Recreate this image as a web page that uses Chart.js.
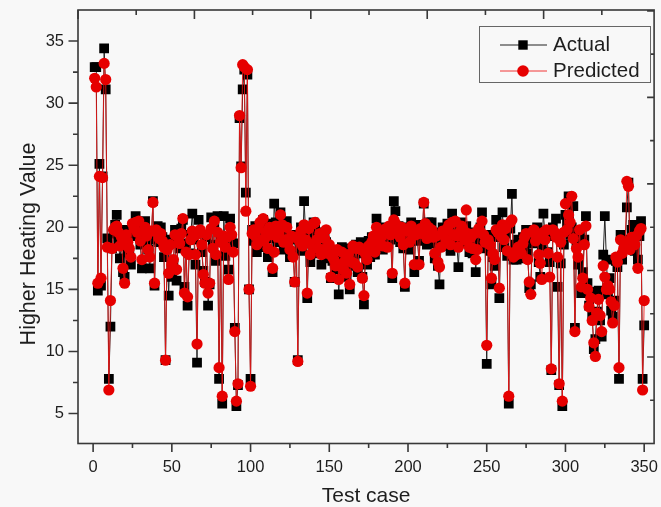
<!DOCTYPE html>
<html><head><meta charset="utf-8">
<script src="https://cdn.jsdelivr.net/npm/chart.js@4.4.1/dist/chart.umd.min.js"></script>
<style>html,body{margin:0;padding:0;background:#f8f8f8;}#wrap{width:661px;height:507px;}</style>
</head><body><div id="wrap"><canvas id="c" width="661" height="507"></canvas></div>
<script>
const seriesNames = ['Actual', 'Predicted'];
const yTitle = 'Higher Heating Value';
const xTitle = 'Test case';
const actual = [
32.9,32.9,14.9,25.1,15.3,24.1,34.4,31.1,19.1,7.8,
12.0,18.3,19.5,20.2,21.0,19.0,17.5,18.6,16.4,16.0,
19.8,18.0,17.9,17.0,20.0,19.5,20.9,19.3,20.4,18.6,
16.7,19.7,20.5,18.9,18.2,16.7,19.0,22.1,15.3,19.4,
20.1,18.8,20.0,19.2,17.6,9.3,18.5,14.5,19.0,16.0,
17.1,19.8,15.7,19.5,18.3,19.9,20.6,15.2,18.7,13.7,
17.9,19.4,21.1,19.0,17.0,9.1,20.6,19.5,18.0,16.5,
15.6,19.2,13.7,15.4,20.8,18.6,20.0,17.3,20.9,7.8,
19.3,5.8,20.9,17.7,18.5,16.6,20.7,19.0,18.7,11.9,
5.6,7.3,28.8,24.9,31.1,32.7,22.8,32.3,15.0,7.8,
19.8,18.9,20.1,18.0,19.6,20.2,19.0,20.6,18.4,19.5,
17.6,20.3,19.1,16.4,21.9,20.4,18.8,19.7,21.2,19.9,
18.2,18.4,20.5,19.3,17.6,19.0,18.0,15.6,19.4,9.3,
18.6,20.0,18.1,22.1,19.5,14.3,18.7,17.2,19.1,20.4,
19.8,18.6,17.9,19.2,17.0,18.5,19.6,18.8,17.5,18.2,
15.9,17.3,18.0,16.6,17.8,14.6,17.2,18.4,16.2,17.7,
16.0,18.3,15.0,16.9,18.1,17.5,18.6,16.4,17.9,18.8,
16.0,13.8,18.3,17.0,18.9,17.6,19.2,18.5,17.8,20.7,
19.0,18.4,19.6,18.2,20.0,19.3,18.7,19.8,19.0,15.9,
22.1,21.3,19.2,20.1,18.8,19.6,18.3,15.2,20.0,19.4,
18.2,20.4,19.0,16.4,19.7,18.9,17.3,20.2,19.1,21.9,
19.5,18.6,20.4,19.3,20.4,18.7,17.5,19.6,16.9,15.4,
18.8,20.0,19.2,18.5,20.3,19.6,18.1,21.1,19.8,19.0,
18.6,16.8,19.9,20.4,19.3,18.7,20.1,19.4,18.0,19.6,
17.9,19.1,16.4,18.8,19.5,20.0,21.2,19.0,18.3,9.0,
19.4,18.1,15.4,17.6,16.9,20.6,19.2,14.3,19.8,21.2,
18.4,19.5,17.7,5.8,19.9,22.7,17.4,18.6,17.4,19.0,
18.2,17.5,19.2,18.6,19.8,17.9,15.1,15.4,19.1,18.7,
19.4,20.0,17.2,16.0,18.5,21.1,19.3,19.5,18.0,17.2,
8.5,20.0,19.3,20.7,15.2,7.3,17.1,5.6,18.6,21.0,
20.3,22.5,19.4,20.0,21.7,11.9,18.7,17.0,19.2,14.7,
16.4,19.0,20.9,15.5,13.7,14.8,12.9,10.2,11.0,13.2,
14.9,12.5,11.2,17.8,20.9,17.4,14.6,15.9,13.3,12.8,
14.1,17.3,16.8,7.8,19.4,17.4,18.9,19.0,21.6,23.6,
18.3,19.8,20.2,18.1,19.6,17.4,19.3,20.5,7.8,12.1
];
const predicted = [
32.0,31.3,15.5,24.1,15.9,24.0,33.2,31.9,18.4,6.9,
14.1,18.3,19.8,20.0,20.1,19.6,18.5,19.2,16.7,15.5,
19.4,18.8,18.3,17.6,20.3,19.9,20.4,19.6,20.5,18.9,
17.4,19.5,20.0,19.3,18.2,17.6,19.7,22.0,15.5,19.8,
19.6,19.1,19.5,18.9,18.4,9.3,18.2,16.3,18.6,17.0,
17.4,19.4,16.6,19.2,18.7,19.5,20.7,14.7,18.0,14.4,
17.8,19.0,19.7,19.3,17.8,10.6,19.5,19.8,18.6,16.2,
15.5,19.4,14.7,15.5,19.9,18.3,20.5,17.8,19.6,8.7,
18.8,6.4,19.3,18.4,19.2,15.8,20.0,19.4,18.0,11.6,
6.0,7.4,29.0,24.8,33.1,32.9,21.3,32.7,15.0,7.2,
19.5,19.8,19.3,18.6,19.9,20.4,18.9,20.7,19.1,19.6,
18.3,20.0,19.4,16.7,18.0,20.1,19.2,19.5,21.0,20.2,
18.8,19.0,20.0,18.9,18.2,19.3,17.6,15.6,19.2,9.2,
18.9,19.7,18.5,20.2,19.0,14.7,19.9,17.8,18.6,20.3,
20.4,19.0,18.3,19.5,17.8,18.2,19.1,19.8,17.9,18.6,
16.0,17.6,17.4,16.9,18.2,15.8,17.0,18.0,16.6,17.3,
16.3,17.8,15.4,17.2,18.5,17.1,18.3,16.8,18.4,18.2,
15.9,14.5,17.9,17.4,18.5,18.1,18.8,19.3,18.0,20.0,
19.5,18.7,19.2,18.5,19.7,19.9,18.4,20.1,19.4,16.3,
20.6,20.3,19.6,19.8,19.2,20.0,18.6,15.5,19.7,19.8,
18.8,20.1,19.3,17.0,19.4,19.6,17.0,19.9,19.5,22.0,
20.3,19.1,20.0,19.6,19.8,19.2,17.9,19.3,17.2,16.8,
18.4,19.7,19.6,19.0,19.9,20.2,18.6,20.4,19.4,20.5,
19.3,18.4,19.6,20.1,19.8,19.0,21.4,19.5,18.4,19.2,
18.3,19.5,17.4,18.2,19.9,19.6,20.5,19.4,18.8,10.5,
19.0,18.6,15.9,17.9,17.4,19.8,19.6,15.1,19.3,20.2,
19.0,19.9,18.1,6.4,20.4,20.6,17.6,18.0,17.8,18.4,
18.2,17.9,18.7,19.2,19.5,17.4,15.6,14.6,19.6,19.8,
18.9,19.4,17.8,17.1,15.8,19.6,19.0,19.8,17.9,16.0,
8.6,19.8,19.6,19.2,17.6,7.4,18.8,6.0,19.6,21.9,
19.8,21.0,20.4,22.5,19.1,11.6,18.3,17.6,19.8,15.2,
15.9,18.6,20.1,15.0,13.6,14.3,12.5,10.7,9.6,13.1,
14.2,12.9,11.6,16.9,16.0,15.0,15.3,15.0,14.0,12.3,
13.7,17.6,17.2,8.7,19.0,17.9,18.3,18.7,23.7,23.3,
18.2,19.2,19.1,18.6,19.3,16.7,19.7,19.9,6.9,14.1
];
const xTicks = [0, 25, 50, 75, 100, 125, 150, 175, 200, 225, 250, 275, 300, 325, 350];
const yTicks = [5, 7.5, 10, 12.5, 15, 17.5, 20, 22.5, 25, 27.5, 30, 32.5, 35];
const topFrameTicks = [0, 0.5, 1, 1.5, 2, 2.5, 3, 3.5, 4, 4.5];
const rightFrameTicks = [0.5, 1, 1.5, 2, 2.5, 3, 3.5, 4, 4.5, 5];

const testCase = actual.map((_, i) => i + 1);
const FONT = 'Arial, "Liberation Sans", sans-serif';
const INK = '#1e1e1e';
const FRAME = '#383838';

function noPad(s) { s.paddingTop = 0; s.paddingBottom = 0; s.paddingLeft = 0; s.paddingRight = 0; }

const framePlugin = {
  id: 'frame',
  beforeDatasetsDraw(chart) {
    const {ctx, chartArea: a, scales} = chart;
    ctx.save();
    ctx.strokeStyle = FRAME;
    ctx.lineWidth = 1.6;
    ctx.strokeRect(a.left, a.top, a.right - a.left, a.bottom - a.top);
    ctx.beginPath();
    xTicks.forEach(v => {
      const p = scales.x.getPixelForValue(v);
      const len = v % 50 === 0 ? 8.5 : 4.5;
      ctx.moveTo(p, a.bottom); ctx.lineTo(p, a.bottom + len);
    });
    yTicks.forEach(v => {
      const p = scales.y.getPixelForValue(v);
      const len = v % 5 === 0 ? 9.5 : 5;
      ctx.moveTo(a.left, p); ctx.lineTo(a.left - len, p);
    });
    topFrameTicks.forEach(v => {
      const p = scales.xTop.getPixelForValue(v);
      const len = v % 1 === 0 ? 9 : 5;
      ctx.moveTo(p, a.top); ctx.lineTo(p, a.top + len);
    });
    rightFrameTicks.forEach(v => {
      const p = scales.yRight.getPixelForValue(v);
      const len = v % 1 === 0 ? 7 : 4;
      ctx.moveTo(a.right, p); ctx.lineTo(a.right - len, p);
    });
    ctx.stroke();
    // y-axis title
    ctx.fillStyle = INK;
    ctx.font = '21.5px ' + FONT;
    ctx.textAlign = 'center';
    ctx.textBaseline = 'alphabetic';
    ctx.translate(35, 244);
    ctx.rotate(-Math.PI / 2);
    ctx.fillText(yTitle, 0, 0);
    ctx.restore();
  },
  afterDraw(chart) {
    const {ctx} = chart;
    const ds = chart.data.datasets;
    ctx.save();
    ctx.fillStyle = '#f8f8f8';
    ctx.fillRect(479.5, 26.5, 171, 56);
    ctx.strokeStyle = '#666';
    ctx.lineWidth = 1;
    ctx.strokeRect(479.5, 26.5, 171, 56);
    const rows = [45, 71];
    ds.forEach((d, i) => {
      const y = rows[i];
      ctx.strokeStyle = d.borderColor;
      ctx.lineWidth = 1;
      ctx.beginPath(); ctx.moveTo(500, y); ctx.lineTo(547, y); ctx.stroke();
      ctx.fillStyle = d.pointBackgroundColor;
      if (d.pointStyle === 'rect') {
        ctx.fillRect(523 - 4.7, y - 4.7, 9.4, 9.4);
      } else {
        ctx.beginPath(); ctx.arc(523, y, 5.8, 0, Math.PI * 2); ctx.fill();
      }
      ctx.fillStyle = INK;
      ctx.font = '20.5px ' + FONT;
      ctx.textBaseline = 'middle';
      ctx.textAlign = 'left';
      ctx.fillText(d.label, 553, y);
    });
    ctx.restore();
  }
};

new Chart(document.getElementById('c'), {
  type: 'line',
  data: {
    datasets: [
      {
        label: seriesNames[0],
        data: testCase.map((x, i) => ({x, y: actual[i]})),
        borderColor: '#222',
        borderWidth: 1,
        pointStyle: 'rect',
        pointRadius: 6.9,
        pointBackgroundColor: '#000',
        pointBorderWidth: 0,
        order: 1
      },
      {
        label: seriesNames[1],
        data: testCase.map((x, i) => ({x, y: predicted[i]})),
        borderColor: 'rgba(240,20,20,0.85)',
        borderWidth: 1,
        pointStyle: 'circle',
        pointRadius: 5.6,
        pointBackgroundColor: '#e60000',
        pointBorderWidth: 0,
        order: 0
      }
    ]
  },
  options: {
    responsive: false,
    animation: false,
    devicePixelRatio: 1,
    layout: {padding: {top: 10, right: 1, left: 0, bottom: 0}},
    plugins: {legend: {display: false}, tooltip: {enabled: false}},
    scales: {
      x: {
        type: 'linear', position: 'bottom', min: -9.6, max: 356.3,
        afterBuildTicks: s => { s.ticks = xTicks.map(v => ({value: v})); },
        afterFit: s => { s.height = 63.5; noPad(s); },
        grid: {display: true, drawOnChartArea: false, drawTicks: true, tickLength: 0, color: 'rgba(0,0,0,0)'},
        border: {display: false},
        ticks: {
          autoSkip: false, maxRotation: 0, padding: 14, color: INK,
          font: {family: FONT, size: 16.5},
          callback: v => (v % 50 === 0 ? String(v) : '')
        },
        title: {display: true, text: xTitle, color: INK, font: {family: FONT, size: 21}, padding: {top: 0, bottom: -2}}
      },
      y: {
        type: 'linear', position: 'left', min: 2.59, max: 37.5,
        afterBuildTicks: s => { s.ticks = yTicks.map(v => ({value: v})); },
        afterFit: s => { s.width = 78; noPad(s); },
        grid: {display: true, drawOnChartArea: false, drawTicks: true, tickLength: 0, color: 'rgba(0,0,0,0)'},
        border: {display: false},
        ticks: {
          autoSkip: false, padding: 14, color: INK,
          font: {family: FONT, size: 16.5},
          callback: v => (v % 5 === 0 ? String(v) : '')
        },
        title: {display: false}
      },
      xTop: {type: 'linear', position: 'top', display: false, min: 0, max: 4.949, afterFit: noPad},
      yRight: {type: 'linear', position: 'right', display: false, min: 0, max: 5.01, afterFit: noPad}
    }
  },
  plugins: [framePlugin]
});
</script>
</body></html>
